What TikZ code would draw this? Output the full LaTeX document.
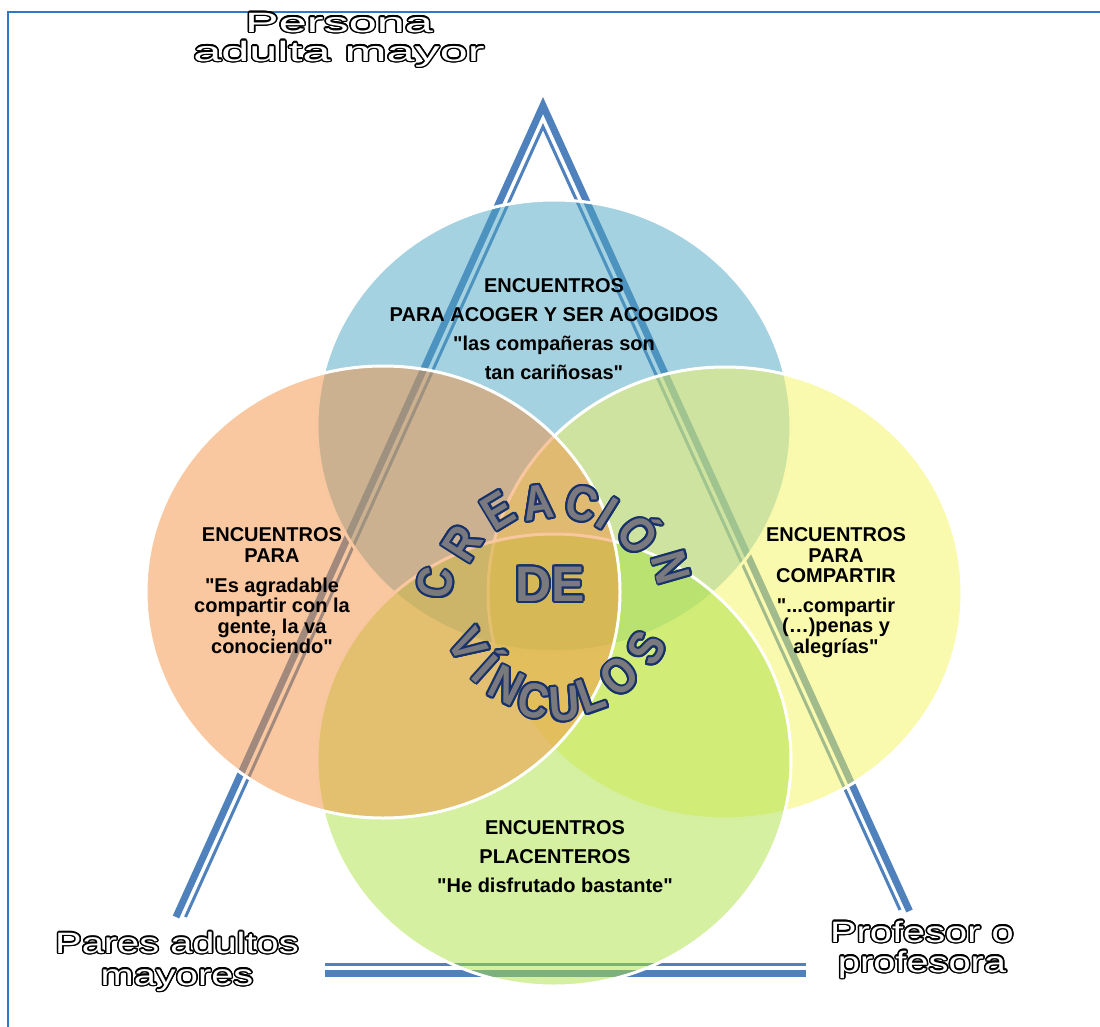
\documentclass[tikz,border=0pt]{standalone}
\usepackage{fontspec}
\setmainfont{Liberation Sans}[Ligatures=TeXOff]
\newfontfamily\tagfont[FakeStretch=1.35]{Liberation Sans}
\newfontfamily\widetagfont[FakeStretch=1.8]{Liberation Sans}
\newfontfamily\artfont[FakeStretch=0.86]{Liberation Sans}
\usepackage{tikz}
\usepackage{xcolor}
\usepackage[copies]{contour}
\usetikzlibrary{
  positioning, calc,
}
\definecolor{cFrame}  {HTML}{2F78C8}
\definecolor{cTri}    {HTML}{4F81BD}
\definecolor{cBlue}   {HTML}{4BA5C3}
\definecolor{cPeach}  {HTML}{F39141}
\definecolor{cYellow} {HTML}{F5F55F}
\definecolor{cGreen}  {HTML}{A9E141}
\definecolor{cNavy}   {HTML}{17326A}
\definecolor{cLetter} {HTML}{7A7A7E}
\contourlength{1.5pt}
\newcommand{\hollow}[1]{\contour{black}{\textcolor{white}{#1}}}
\newcommand{\wordart}[1]{{\contourlength{2pt}\contour{cNavy}{\textcolor{cLetter}{#1}}}}

\begin{document}
\begin{tikzpicture}[x=1pt, y=-1pt,
    circ/.style={draw=white, line width=3pt, fill opacity=0.5},
    circtext/.style={font=\bfseries\fontsize{20}{#1}\selectfont, align=center,
                     anchor=north, inner sep=0pt, text=black},
    side/.style={draw=cTri, line cap=butt, line join=miter},
    tag/.style={align=center, anchor=north, inner sep=0pt},
    arcletter/.style={font=\artfont\bfseries\fontsize{49}{49}\selectfont, inner sep=0pt,
                      text height=35pt, text depth=0pt}]
  \useasboundingbox (0,0) rectangle (1100,1027);
  % frame
  \draw[cFrame, line width=2pt] (8,1027) -- (8,12) -- (1100,12);
  % triangle, thick outer and thin inner strokes
  \coordinate (apexO) at (543,105.5);
  \coordinate (apexI) at (543,126.7);
  \draw[side, line width=7pt] (176,917) -- (apexO) -- (909.5,911);
  \draw[side, line width=3pt] (185.5,917) -- (apexI) -- (900,910);
  \draw[side, line width=7pt] (325,973) -- (806,973);
  \draw[side, line width=3pt] (325,964.5) -- (806,964.5);
  % four overlapping circles
  \foreach \name/\cx/\cy/\col in {top/554/426/cBlue, right/725/593/cYellow,
                                  bottom/554/760/cGreen, left/383/592/cPeach}{
    \coordinate (c\name) at (\cx,\cy);
    \path[circ, fill=\col] (c\name) ellipse [x radius=237pt, y radius=226pt];
  }
  % circle texts
  \node[circtext=29] (tTop) at (554,278.7)
    {ENCUENTROS\\PARA ACOGER Y SER ACOGIDOS\\"las compañeras son\\tan cariñosas"};
  \node[circtext=20.5] (tLeft) at (272,527.7)
    {ENCUENTROS\\PARA\\[9.5pt]"Es agradable\\compartir con la\\gente, la va\\conociendo"};
  \node[circtext=20.5] (tRight) at (836,527.7)
    {ENCUENTROS\\PARA\\COMPARTIR\\[9pt]"...compartir\\(…)penas y\\alegrías"};
  \node[circtext=29] (tBottom) at (555,820)
    {ENCUENTROS\\PLACENTEROS\\"He disfrutado bastante"};
  % word art in the middle
  \node[font=\bfseries\fontsize{50}{50}\selectfont, inner sep=0pt] (de) at (550,585) {\wordart{DE}};
  \foreach \ch/\px/\py/\ang [count=\i] in {C/435/583/171, R/462/543/147.5, E/498/510/121,
      A/538/502/98.6, C/582/503/73.5, I/608/513/58, Ó/638/535/37.8, N/672/567/16}
    \node[arcletter, rotate=\ang-90] (up\i) at (\px,\py) {\wordart{\ch}};
  \foreach \ch/\px/\py/\ang [count=\i] in {V/469/645/210, Í/486/668/228, N/507/685/243.4,
      C/534/700/259, U/564/703/274, L/591/694/289.5, O/619/676/310, S/646/648/331}
    \node[arcletter, rotate=\ang+90] (low\i) at (\px,\py) {\wordart{\ch}};
  % corner labels
  \node[tag, font=\widetagfont\fontsize{28}{29}\selectfont] (persona) at (339,12.8)
    {\hollow{Persona}\\\hollow{adulta mayor}};
  \node[tag, font=\tagfont\fontsize{29.5}{32}\selectfont] (pares) at (177,931.8)
    {\hollow{Pares adultos}\\\hollow{mayores}};
  \node[tag, font=\tagfont\fontsize{29.5}{30}\selectfont] (profe) at (922,920.8)
    {\hollow{Profesor o}\\\hollow{profesora}};
\end{tikzpicture}
\end{document}
